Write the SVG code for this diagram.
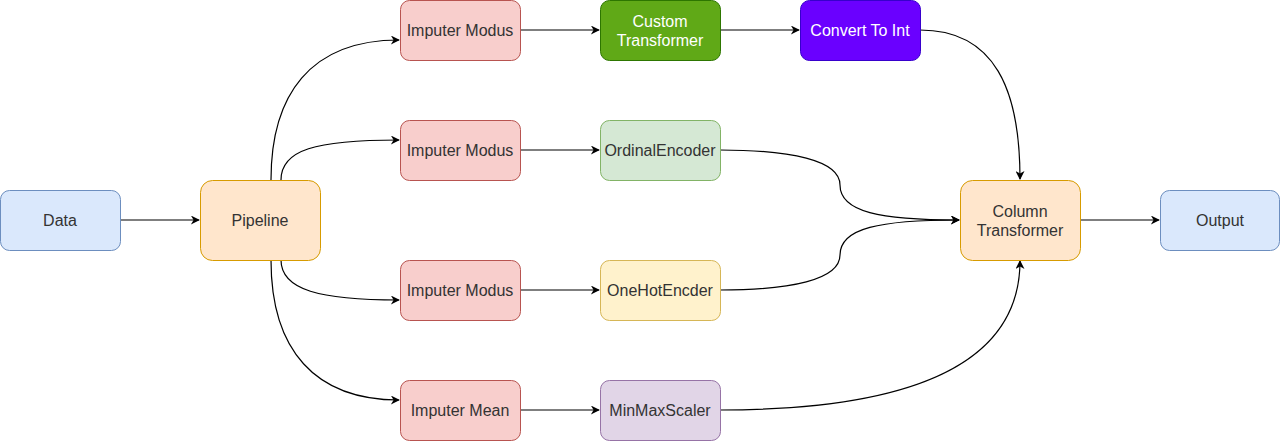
<svg xmlns="http://www.w3.org/2000/svg" width="1281" height="441" viewBox="0 0 1281 441">
<style>
.n{stroke-width:1}
.t{font-family:"Liberation Sans",Arial,sans-serif;font-size:16px;fill:#333;text-anchor:middle;dominant-baseline:central}
.w{fill:#fff}
.e{fill:none;stroke:#000;stroke-width:1.2;marker-end:url(#a)}
.blue{fill:#dae8fc;stroke:#6c8ebf}
.orange{fill:#ffe6cc;stroke:#d79b00}
.red{fill:#f8cecc;stroke:#b85450}
.green{fill:#60a917;stroke:#2d7600}
.violet{fill:#6a00ff;stroke:#3700cc}
.lgreen{fill:#d5e8d4;stroke:#82b366}
.yellow{fill:#fff2cc;stroke:#d6b656}
.lpurple{fill:#e1d5e7;stroke:#9673a6}
</style>
<defs>
<marker id="a" viewBox="0 0 10 10" refX="9" refY="5" markerWidth="10" markerHeight="9" orient="auto" markerUnits="userSpaceOnUse">
<path d="M0,0 L10,5 L0,10 L3,5 z" fill="#000"/>
</marker>
</defs>
<rect width="1281" height="441" fill="#fff"/>
<g id="connectors">
<path class="e" d="M120,220 L199,220"/>
<path class="e" d="M271,180 C271,95 310,40 399,40"/>
<path class="e" d="M281,180 C281,150 315,140 399,140"/>
<path class="e" d="M281,260 C281,290 320,300 399,300"/>
<path class="e" d="M271,260 C271,350 315,400 399,400"/>
<path class="e" d="M520,30 L599,30"/>
<path class="e" d="M520,150 L599,150"/>
<path class="e" d="M520,290 L599,290"/>
<path class="e" d="M520,410 L599,410"/>
<path class="e" d="M720,30 L799,30"/>
<path class="e" d="M920,30 C995,30 1020,90 1020,179"/>
<path class="e" d="M720,150 C790,150 840,160 840,185 C840,212 880,220 959,220"/>
<path class="e" d="M720,290 C790,290 840,280 840,255 C840,228 880,220 959,220"/>
<path class="e" d="M720,410 C900,410 1020,370 1020,261"/>
<path class="e" d="M1080,220 L1159,220"/>
</g>
<g id="data"><rect class="n blue" x="0.5" y="190.5" width="120" height="60" rx="9"/><text class="t" x="60" y="220">Data</text></g>
<g id="pipeline"><rect class="n orange" x="200.5" y="180.5" width="120" height="80" rx="12"/><text class="t" x="260" y="220">Pipeline</text></g>
<g id="imp1"><rect class="n red" x="400.5" y="0.5" width="120" height="60" rx="9"/><text class="t" x="460" y="30">Imputer Modus</text></g>
<g id="imp2"><rect class="n red" x="400.5" y="120.5" width="120" height="60" rx="9"/><text class="t" x="460" y="150">Imputer Modus</text></g>
<g id="imp3"><rect class="n red" x="400.5" y="260.5" width="120" height="60" rx="9"/><text class="t" x="460" y="290">Imputer Modus</text></g>
<g id="imp4"><rect class="n red" x="400.5" y="380.5" width="120" height="60" rx="9"/><text class="t" x="460" y="410">Imputer Mean</text></g>
<g id="custom"><rect class="n green" x="600.5" y="0.5" width="120" height="60" rx="9"/><text class="t w" x="660" y="21">Custom</text><text class="t w" x="660" y="40">Transformer</text></g>
<g id="convert"><rect class="n violet" x="800.5" y="0.5" width="120" height="60" rx="9"/><text class="t w" x="860" y="30">Convert To Int</text></g>
<g id="ordinal"><rect class="n lgreen" x="600.5" y="120.5" width="120" height="60" rx="9"/><text class="t" x="660" y="150">OrdinalEncoder</text></g>
<g id="onehot"><rect class="n yellow" x="600.5" y="260.5" width="120" height="60" rx="9"/><text class="t" x="660" y="290">OneHotEncder</text></g>
<g id="minmax"><rect class="n lpurple" x="600.5" y="380.5" width="120" height="60" rx="9"/><text class="t" x="660" y="410">MinMaxScaler</text></g>
<g id="column"><rect class="n orange" x="960.5" y="180.5" width="120" height="80" rx="12"/><text class="t" x="1020" y="211">Column</text><text class="t" x="1020" y="230">Transformer</text></g>
<g id="output"><rect class="n blue" x="1160.5" y="190.5" width="119" height="60" rx="9"/><text class="t" x="1220" y="220">Output</text></g>
</svg>
